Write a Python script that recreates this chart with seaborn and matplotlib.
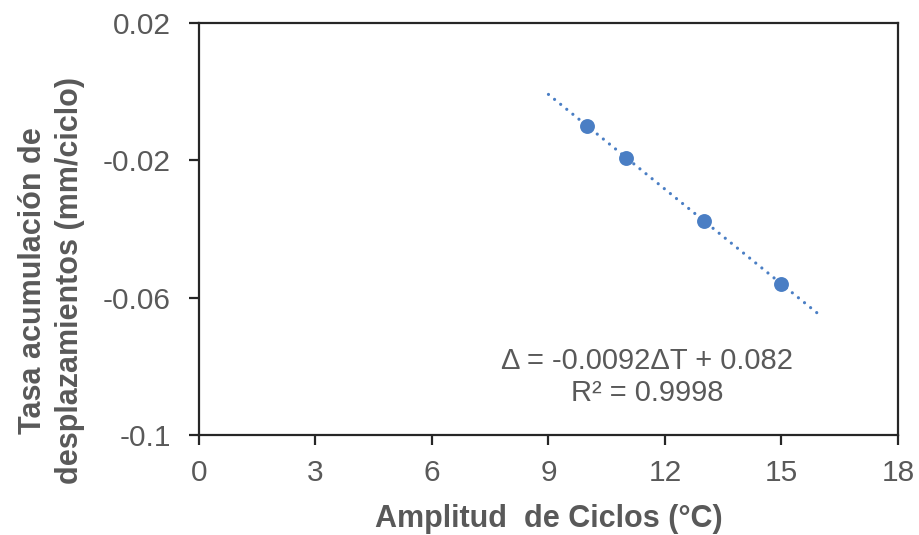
import numpy as np
import pandas as pd
import matplotlib
matplotlib.use("Agg")
import matplotlib.pyplot as plt
import seaborn as sns

# Measured displacement accumulation rate vs. thermal cycle amplitude
amplitud = [10, 11, 13, 15]
tasa = [-0.0101, -0.0193, -0.0376, -0.0561]

# Linear trend reported on the chart
pendiente = -0.0092
intercepto = 0.082
r2 = 0.9998
tendencia_x = [9, 16]

x_ticks = [0, 3, 6, 9, 12, 15, 18]
y_ticks = [-0.1, -0.06, -0.02, 0.02]
y_tick_labels = ["-0.1", "-0.06", "-0.02", "0.02"]

azul = "#4A7EC4"
gris = "#595959"

sns.set_theme(style="white")
plt.rcParams["font.family"] = ["Liberation Sans", "DejaVu Sans"]

fig = plt.figure(figsize=(9.19, 5.35), dpi=100)
ax = fig.add_axes([0.2165, 0.1869, 0.7606, 0.7701])

df = pd.DataFrame({"x": amplitud, "y": tasa})
tx = np.array(tendencia_x, dtype=float)
df_t = pd.DataFrame({"x": tx, "y": pendiente * tx + intercepto})

sns.lineplot(data=df_t, x="x", y="y", ax=ax, color=azul, linewidth=2.3,
             dashes=False, zorder=2)
linea = ax.lines[-1]
linea.set_linestyle((0, (0.01, 2.45)))
linea.set_dash_capstyle("round")

sns.scatterplot(data=df, x="x", y="y", ax=ax, color=azul, s=115,
                edgecolor=azul, linewidth=0, zorder=3)

ax.set_xlim(0, 18)
ax.set_ylim(-0.1, 0.02)
ax.set_xticks(x_ticks)
ax.set_yticks(y_ticks)
ax.set_yticklabels(y_tick_labels)

for s in ax.spines.values():
    s.set_color("#262626")
    s.set_linewidth(1.6)
    s.set_visible(True)

ax.tick_params(axis="both", which="major", direction="out", length=7.2,
               width=1.6, color="#262626", labelsize=21.5, labelcolor=gris,
               bottom=True, left=True)
ax.tick_params(axis="y", pad=13)
ax.tick_params(axis="x", pad=10)

ax.set_xlabel("Amplitud  de Ciclos (°C)", fontsize=22, fontweight="bold",
              color=gris, labelpad=12)
ax.set_ylabel("Tasa acumulación de\ndesplazamientos (mm/ciclo)", fontsize=22,
              fontweight="bold", color=gris, linespacing=1.32)
ax.yaxis.set_label_coords(-0.163, 0.374)

ax.text(11.54, -0.0830, f"Δ = {pendiente}ΔT + {intercepto}\nR² = {r2}",
        ha="center", va="center", fontsize=21, color=gris, linespacing=1.18)

fig.savefig("out.png", dpi=100)
